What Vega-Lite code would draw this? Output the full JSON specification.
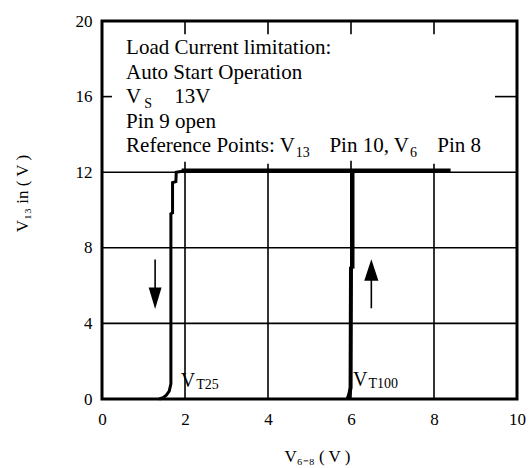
{
  "$schema": "https://vega.github.io/schema/vega-lite/v6.json",
  "width": 415,
  "height": 378,
  "autosize": {"type": "none"},
  "padding": {"left": 102, "top": 21, "right": 12, "bottom": 69},
  "background": "white",
  "config": {
    "view": {"stroke": "black", "strokeWidth": 3},
    "font": "Liberation Serif",
    "axis": {
      "labelFont": "Liberation Serif",
      "labelFontSize": 17,
      "labelColor": "black",
      "titleFont": "Liberation Serif",
      "titleFontSize": 17,
      "titleFontWeight": "normal",
      "titleColor": "black",
      "domain": false,
      "ticks": false,
      "grid": false
    }
  },
  "datasets": {
    "grid": [
      {"x": 2, "x2": 2, "y": 0, "y2": 12.55},
      {"x": 4, "x2": 4, "y": 0, "y2": 12.45},
      {"x": 6, "x2": 6, "y": 0, "y2": 12.6},
      {"x": 8, "x2": 8, "y": 0, "y2": 12.45},
      {"x": 0, "x2": 10, "y": 4, "y2": 4},
      {"x": 0, "x2": 10, "y": 8, "y2": 8},
      {"x": 0, "x2": 10, "y": 12, "y2": 12},
      {"x": 2, "x2": 2, "y": 19.3, "y2": 20},
      {"x": 4, "x2": 4, "y": 19.3, "y2": 20},
      {"x": 6, "x2": 6, "y": 19.3, "y2": 20},
      {"x": 8, "x2": 8, "y": 19.3, "y2": 20},
      {"x": 0, "x2": 0.24, "y": 16, "y2": 16},
      {"x": 9.47, "x2": 10, "y": 16, "y2": 16}
    ],
    "curves": [
      {"series": "down", "order": 1, "x": 1.38, "y": 0},
      {"series": "down", "order": 2, "x": 1.47, "y": 0.07},
      {"series": "down", "order": 3, "x": 1.55, "y": 0.2},
      {"series": "down", "order": 4, "x": 1.62, "y": 0.42},
      {"series": "down", "order": 5, "x": 1.66, "y": 0.8},
      {"series": "down", "order": 6, "x": 1.66, "y": 9.8},
      {"series": "down", "order": 7, "x": 1.7, "y": 9.85},
      {"series": "down", "order": 8, "x": 1.7, "y": 11.45},
      {"series": "down", "order": 9, "x": 1.78, "y": 11.5},
      {"series": "down", "order": 10, "x": 1.79, "y": 12.0},
      {"series": "down", "order": 11, "x": 1.93, "y": 12.05},
      {"series": "top", "order": 1, "x": 1.92, "y": 12.1},
      {"series": "top", "order": 2, "x": 8.4, "y": 12.1},
      {"series": "upLow", "order": 1, "x": 5.92, "y": 0},
      {"series": "upLow", "order": 2, "x": 5.96, "y": 0.25},
      {"series": "upLow", "order": 3, "x": 5.99, "y": 0.6},
      {"series": "upLow", "order": 4, "x": 6.0, "y": 7.0},
      {"series": "upHigh", "order": 1, "x": 6.03, "y": 6.9},
      {"series": "upHigh", "order": 2, "x": 6.03, "y": 12.1}
    ],
    "shafts": [
      {"x": 1.28, "y": 7.38, "y2": 5.6},
      {"x": 6.49, "y": 4.8, "y2": 6.6}
    ],
    "heads": [
      {"dir": "down", "x": 1.28, "y": 5.33},
      {"dir": "up", "x": 6.49, "y": 6.83}
    ],
    "mainText": [
      {"text": "Load Current limitation:", "x": 0.58, "y": 18.23},
      {"text": "Auto Start Operation", "x": 0.58, "y": 16.94},
      {"text": "V", "x": 0.58, "y": 15.67},
      {"text": "13V", "x": 1.74, "y": 15.67},
      {"text": "Pin 9 open", "x": 0.58, "y": 14.35},
      {"text": "Reference Points: V", "x": 0.58, "y": 13.06},
      {"text": "Pin 10, V", "x": 5.48, "y": 13.06},
      {"text": "Pin 8", "x": 8.08, "y": 13.06}
    ],
    "subText": [
      {"text": "S", "x": 1.02, "y": 15.67},
      {"text": "13", "x": 4.67, "y": 13.06},
      {"text": "6", "x": 7.42, "y": 13.06}
    ],
    "vtMain": [
      {"text": "V", "x": 1.9, "y": 0.62},
      {"text": "V", "x": 6.05, "y": 0.7}
    ],
    "vtSub": [
      {"text": "T25", "x": 2.27, "y": 0.62},
      {"text": "T100", "x": 6.42, "y": 0.7}
    ]
  },
  "layer": [
    {
      "data": {"name": "grid"},
      "mark": {"type": "rule", "color": "black", "strokeWidth": 1.6},
      "encoding": {
        "x": {
          "field": "x", "type": "quantitative",
          "scale": {"domain": [0, 10], "nice": false, "zero": false},
          "axis": {
            "values": [0, 2, 4, 6, 8, 10],
            "labelPadding": 12,
            "labelFlush": false,
            "title": "V₆₋₈ ( V )",
            "titleX": 215,
            "titleY": 57,
            "titleBaseline": "middle",
            "titleAlign": "center"
          }
        },
        "x2": {"field": "x2"},
        "y": {
          "field": "y", "type": "quantitative",
          "scale": {"domain": [0, 20], "nice": false, "zero": false},
          "axis": {
            "values": [0, 4, 8, 12, 16, 20],
            "labelPadding": 10,
            "title": "V₁₃ in ( V )",
            "titleX": -80,
            "titleY": 172,
            "titleBaseline": "middle",
            "titleAlign": "center"
          }
        },
        "y2": {"field": "y2"}
      }
    },
    {
      "data": {"name": "curves"},
      "mark": {"type": "line", "color": "black", "strokeJoin": "miter"},
      "encoding": {
        "x": {"field": "x", "type": "quantitative"},
        "y": {"field": "y", "type": "quantitative"},
        "detail": {"field": "series"},
        "order": {"field": "order", "type": "quantitative"},
        "strokeWidth": {
          "field": "series", "type": "nominal",
          "scale": {"domain": ["down", "top", "upLow", "upHigh"], "range": [3, 4.5, 3, 4.5]},
          "legend": null
        }
      }
    },
    {
      "data": {"name": "shafts"},
      "mark": {"type": "rule", "color": "black", "strokeWidth": 1.6},
      "encoding": {
        "x": {"field": "x", "type": "quantitative"},
        "y": {"field": "y", "type": "quantitative"},
        "y2": {"field": "y2"}
      }
    },
    {
      "data": {"name": "heads"},
      "mark": {"type": "point", "filled": true, "color": "black", "opacity": 1, "size": 460, "strokeWidth": 0},
      "encoding": {
        "x": {"field": "x", "type": "quantitative"},
        "y": {"field": "y", "type": "quantitative"},
        "shape": {
          "field": "dir", "type": "nominal",
          "scale": {"domain": ["down", "up"], "range": ["M-0.6,-1L0.6,-1L0,1Z", "M-0.66,1L0.66,1L0,-1Z"]},
          "legend": null
        }
      }
    },
    {
      "data": {"name": "mainText"},
      "mark": {"type": "text", "align": "left", "baseline": "alphabetic", "fontSize": 21, "font": "Liberation Serif", "color": "black"},
      "encoding": {
        "x": {"field": "x", "type": "quantitative"},
        "y": {"field": "y", "type": "quantitative"},
        "text": {"field": "text"}
      }
    },
    {
      "data": {"name": "subText"},
      "mark": {"type": "text", "align": "left", "baseline": "alphabetic", "fontSize": 14, "dy": 5, "font": "Liberation Serif", "color": "black"},
      "encoding": {
        "x": {"field": "x", "type": "quantitative"},
        "y": {"field": "y", "type": "quantitative"},
        "text": {"field": "text"}
      }
    },
    {
      "data": {"name": "vtMain"},
      "mark": {"type": "text", "align": "left", "baseline": "alphabetic", "fontSize": 20, "font": "Liberation Serif", "color": "black"},
      "encoding": {
        "x": {"field": "x", "type": "quantitative"},
        "y": {"field": "y", "type": "quantitative"},
        "text": {"field": "text"}
      }
    },
    {
      "data": {"name": "vtSub"},
      "mark": {"type": "text", "align": "left", "baseline": "alphabetic", "fontSize": 14, "dy": 2, "font": "Liberation Serif", "color": "black"},
      "encoding": {
        "x": {"field": "x", "type": "quantitative"},
        "y": {"field": "y", "type": "quantitative"},
        "text": {"field": "text"}
      }
    }
  ]
}
